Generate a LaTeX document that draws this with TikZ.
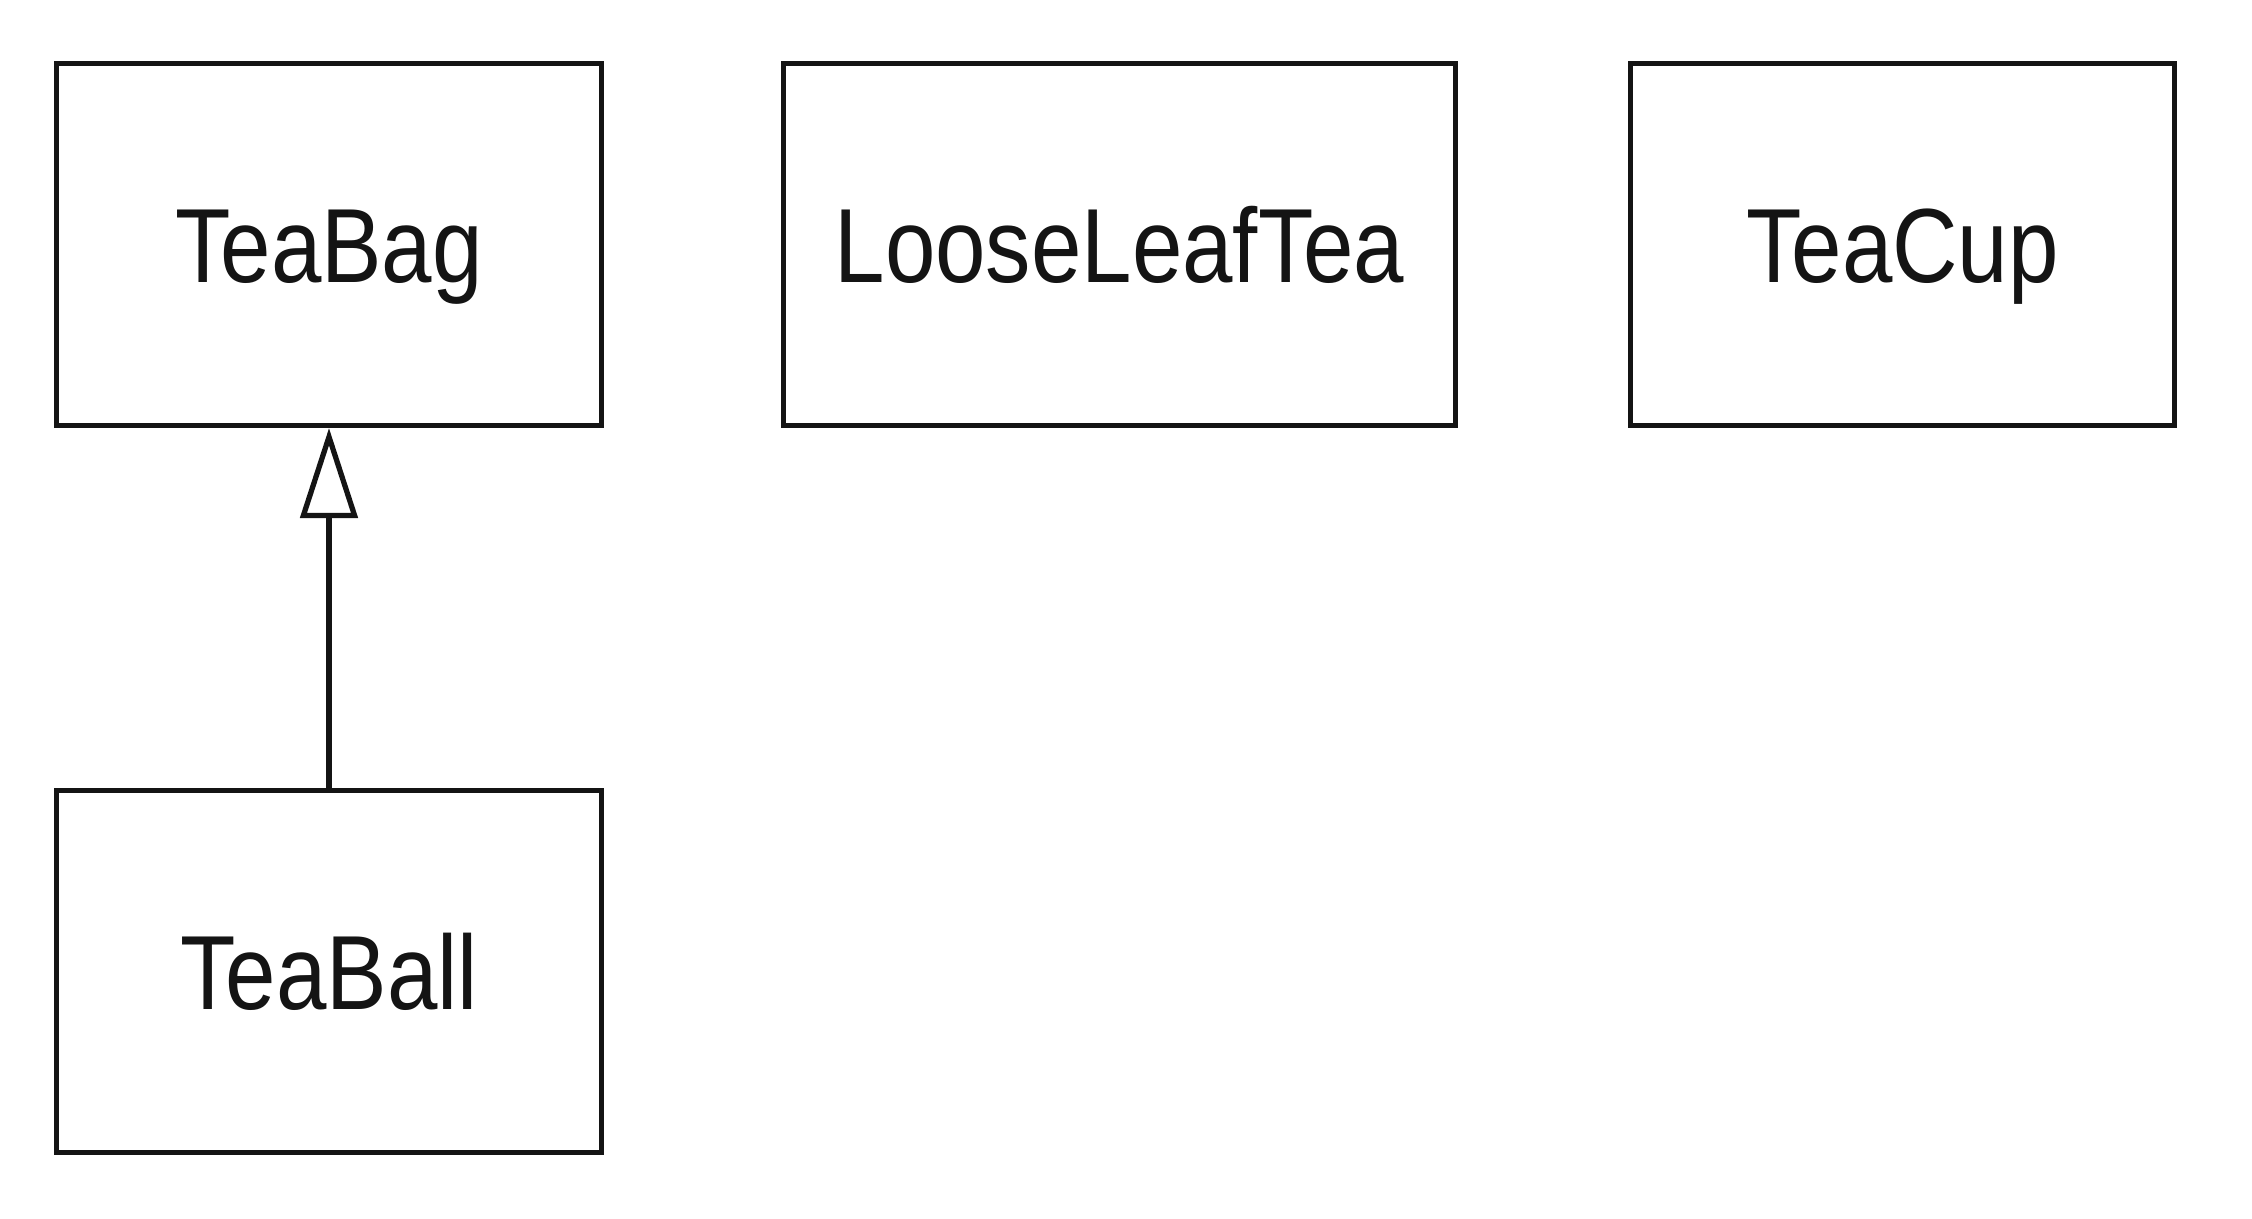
\documentclass[tikz,border=0pt]{standalone}
\usepackage{fontspec}
\setmainfont[FakeStretch=0.86]{Liberation Sans}
\usetikzlibrary{arrows.meta}
\definecolor{ink}{HTML}{141414}
\begin{document}
\begin{tikzpicture}[
  classbox/.style={draw=ink, line width=1.5pt, minimum height=3.62cm,
    text height=21.5pt, text depth=0pt, inner sep=0pt, text=ink,
    font=\fontsize{30}{36}\selectfont},
  inherit/.style={draw=ink, line width=1.5pt,
    -{Triangle[open, length=0.9cm, width=0.57cm, line width=1.5pt]}}
]
\useasboundingbox[fill=white] (0,0) rectangle (22.52,12.18);
\node[classbox, minimum width=5.45cm] (teabag) at (3.29,9.735) {TeaBag};
\node[classbox, minimum width=6.72cm] (loose) at (11.195,9.735) {LooseLeafTea};
\node[classbox, minimum width=5.44cm] (teacup) at (19.025,9.735) {TeaCup};
\node[classbox, minimum width=5.45cm] (teaball) at (3.29,2.465) {TeaBall};
\draw[inherit] (teaball.north) -- (teabag.south);
\end{tikzpicture}
\end{document}
